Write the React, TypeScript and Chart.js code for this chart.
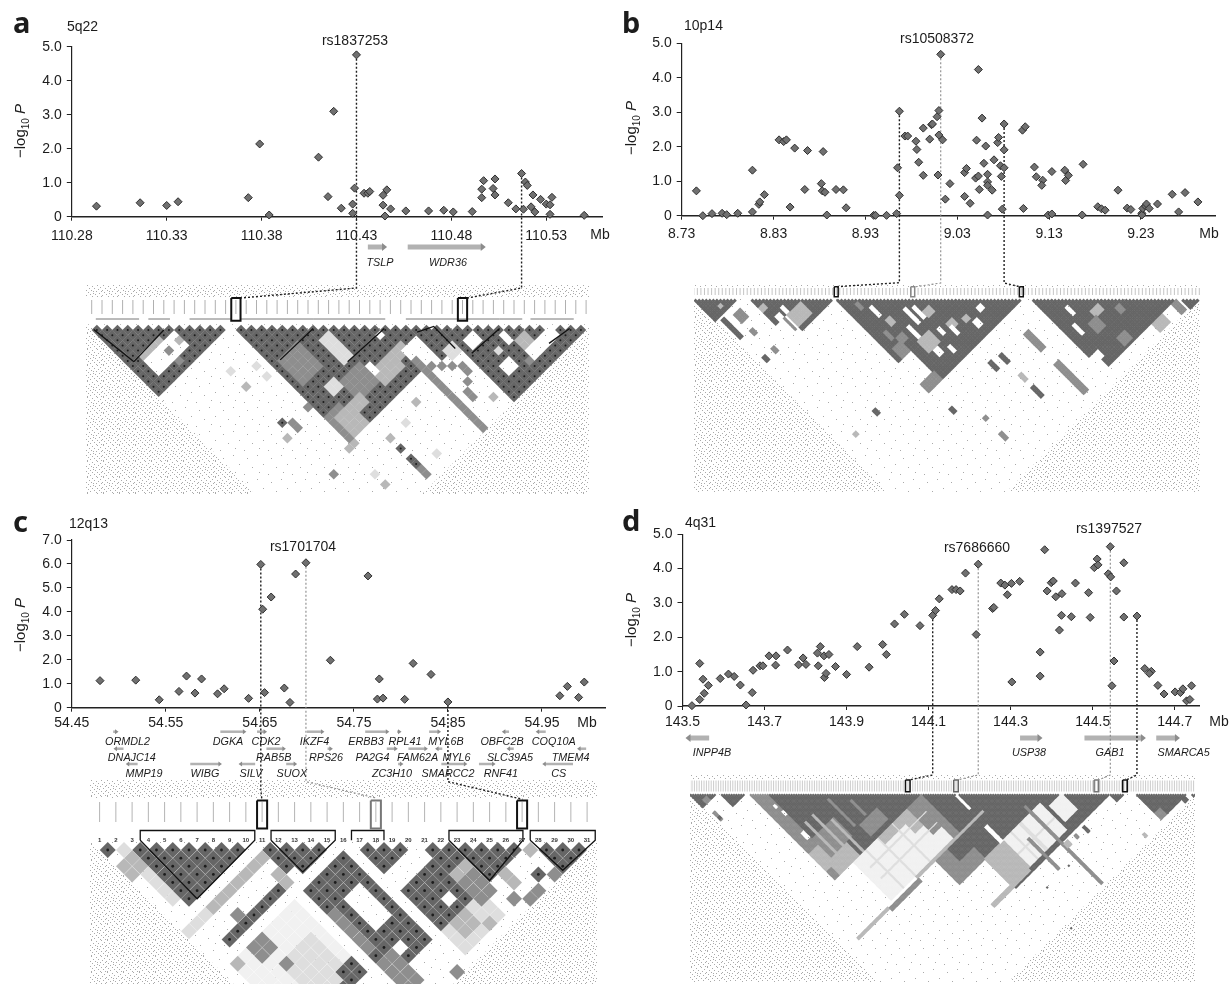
import React, { useEffect, useRef } from "react";
import { Chart, registerables } from "chart.js";
Chart.register(...registerables);

// ---------- association data: [Mb, -log10 P] ----------
const SNPS_A = [[110.293,.31],[110.316,.41],[110.33,.33],[110.336,.44],[110.373,.56],[110.379,2.14],[110.384,.05],[110.41,1.75],[110.415,.59],[110.418,3.1],[110.422,.25],[110.428,.37],[110.428,.1],[110.429,.84],[110.43,4.76],[110.434,.69],[110.436,.69],[110.437,.74],[110.444,.34],[110.444,.63],[110.446,.79],[110.445,.02],[110.448,.23],[110.456,.17],[110.468,.17],[110.476,.19],[110.481,.14],[110.491,.15],[110.496,.56],[110.496,.81],[110.497,1.06],[110.502,.83],[110.503,1.11],[110.503,.64],[110.51,.41],[110.514,.23],[110.517,1.27],[110.518,.22],[110.519,1.02],[110.52,.92],[110.522,.29],[110.523,.64],[110.524,.14],[110.527,.51],[110.53,.37],[110.532,.35],[110.533,.57],[110.532,.07],[110.55,.04]];
const SNPS_B = [[8.746,.72],[8.753,0],[8.763,.06],[8.774,.07],[8.779,.03],[8.791,.07],[8.807,.11],[8.807,1.32],[8.814,.33],[8.815,.4],[8.82,.61],[8.836,2.2],[8.841,2.15],[8.844,2.2],[8.848,.25],[8.853,1.96],[8.864,.76],[8.867,1.89],[8.882,.93],[8.884,1.86],[8.883,.72],[8.886,.68],[8.888,.02],[8.898,.76],[8.906,.75],[8.909,.23],[8.939,.01],[8.941,.01],[8.953,.01],[8.965,1.39],[8.964,.06],[8.967,.59],[8.967,3.03],[8.973,2.31],[8.976,2.31],[8.985,2.16],[8.986,1.92],[8.988,1.55],[8.993,1.17],[8.993,2.54],[9,2.22],[9.002,2.64],[9.003,2.66],[9.008,2.87],[9.009,1.18],[9.01,3.05],[9.01,2.34],[9.014,2.2],[9.012,4.68],[9.017,.48],[9.022,.93],[9.038,.56],[9.038,1.25],[9.04,1.37],[9.044,.36],[9.051,2.19],[9.05,1.09],[9.053,1.15],[9.054,.76],[9.053,4.24],[9.057,2.83],[9.059,1.52],[9.061,2.02],[9.063,1.2],[9.063,.98],[9.063,.88],[9.063,.02],[9.068,.74],[9.07,1.62],[9.074,2.12],[9.075,2.27],[9.077,1.45],[9.078,1.14],[9.081,1.39],[9.079,.19],[9.081,1.91],[9.081,2.66],[9.101,2.48],[9.104,2.58],[9.102,.21],[9.114,1.41],[9.116,1.13],[9.123,1.03],[9.122,.88],[9.129,.02],[9.133,.05],[9.133,1.28],[9.147,1.32],[9.148,1.02],[9.151,1.17],[9.166,.02],[9.167,1.49],[9.183,.26],[9.187,.2],[9.191,.16],[9.205,.74],[9.215,.22],[9.219,.18],[9.231,.07],[9.231,.02],[9.232,.21],[9.235,.28],[9.236,.34],[9.239,.21],[9.248,.34],[9.264,.62],[9.271,.11],[9.278,.67],[9.292,.4]];
const SNPS_C = [[54.48,1.13],[54.518,1.15],[54.543,.33],[54.564,.68],[54.572,1.32],[54.581,.61],[54.588,1.2],[54.605,.58],[54.612,.79],[54.638,.39],[54.651,5.98],[54.653,4.11],[54.655,.63],[54.662,4.62],[54.676,.82],[54.682,.22],[54.688,5.58],[54.699,6.05],[54.725,1.98],[54.765,5.5],[54.775,.36],[54.777,1.2],[54.781,.4],[54.804,.35],[54.813,1.85],[54.832,1.39],[54.85,.24],[54.969,.5],[54.977,.89],[54.989,.43],[54.995,1.07]];
const SNPS_D = [[143.523,.01],[143.542,1.24],[143.542,.19],[143.55,.78],[143.553,.37],[143.563,.6],[143.592,.8],[143.612,.93],[143.626,.86],[143.641,.61],[143.655,.03],[143.67,.39],[143.672,1.04],[143.689,1.17],[143.696,1.17],[143.711,1.46],[143.727,1.19],[143.728,1.46],[143.756,1.63],[143.783,1.2],[143.794,1.4],[143.801,1.21],[143.829,1.54],[143.831,1.17],[143.836,1.73],[143.845,1.46],[143.846,.83],[143.85,.95],[143.857,1.5],[143.873,1.15],[143.9,.92],[143.926,1.73],[143.955,1.13],[143.988,1.79],[143.997,1.5],[144.017,2.39],[144.041,2.67],[144.079,2.34],[144.11,2.64],[144.117,2.78],[144.126,3.12],[144.157,3.39],[144.167,3.39],[144.177,3.35],[144.19,3.87],[144.216,2.08],[144.221,4.13],[144.256,2.84],[144.259,2.87],[144.276,3.58],[144.286,3.52],[144.292,3.24],[144.302,3.57],[144.303,.7],[144.322,3.63],[144.372,.87],[144.372,1.57],[144.383,4.55],[144.389,3.35],[144.399,3.59],[144.404,3.64],[144.41,3.18],[144.419,2.21],[144.425,3.27],[144.424,2.64],[144.448,2.6],[144.458,3.58],[144.49,3.3],[144.494,2.58],[144.504,4.03],[144.511,4.28],[144.513,4.11],[144.538,3.85],[144.543,4.64],[144.544,3.76],[144.547,.59],[144.552,1.31],[144.558,3.35],[144.576,4.17],[144.576,2.59],[144.608,2.62],[144.627,1.09],[144.643,1.01],[144.638,.95],[144.659,.6],[144.674,.35],[144.701,.41],[144.714,.39],[144.72,.5],[144.741,.59],[144.729,.15],[144.737,.19]];

// ---------- tick labels ----------
const XTICKS_A = [110.28,110.33,110.38,110.43,110.48,110.53];
const XTICKS_B = [8.73,8.83,8.93,9.03,9.13,9.23];
const XTICKS_C = [54.45,54.55,54.65,54.75,54.85,54.95];
const XTICKS_D = [143.5,143.7,143.9,144.1,144.3,144.5,144.7];
const YTICKS_5 = [0,1,2,3,4,5];
const YTICKS_7 = [0,1,2,3,4,5,6,7];

// ---------- genes: [name, start Mb, end Mb] (start > end = reverse strand) ----------
const GENES_A = [["TSLP",110.436,110.444],["WDR36",110.457,110.496]];
const GENES_C_1 = [["ORMDL2",54.494,54.497],["DGKA",54.608,54.633],["CDK2",54.647,54.655],["IKZF4",54.70,54.716],["ERBB3",54.762,54.785],["RPL41",54.796,54.798],["MYL6B",54.83,54.84],["OBFC2B",54.915,54.91],["COQ10A",54.954,54.946]];
const GENES_C_2 = [["DNAJC14",54.505,54.497],["RAB5B",54.657,54.675],["RPS26",54.722,54.725],["PA2G4",54.785,54.794],["FAM62A",54.808,54.826],["MYL6",54.844,54.839],["SLC39A5",54.92,54.915],["TMEM4",54.997,54.99]];
const GENES_C_3 = [["MMP19",54.52,54.51],["WIBG",54.576,54.607],["SILV",54.645,54.63],["SUOX",54.678,54.687],["ZC3H10",54.797,54.80],["SMARCC2",54.843,54.868],["RNF41",54.883,54.898],["CS",54.983,54.953]];
const GENES_D = [["INPP4B",143.565,143.517],["USP38",144.323,144.368],["GAB1",144.48,144.62],["SMARCA5",144.655,144.703]];

// ---------- LD matrices: [i0,i1,j0,j1,shade] in marker indices, later entries paint over earlier ----------
const LD_A = [[0,13,0,13,1],[2,7,9,11,0],[2,5,8,8,3],[7,7,10,10,3],[5,5,10,10,2],[5,5,12,12,2],[14,36,14,36,1],[14,16,32,36,2],[15,17,33,36,3],[21,22,24,28,4],[15,18,22,26,2],[19,22,30,33,2],[23,26,32,34,3],[27,27,29,29,0],[27,28,32,33,3],[23,23,31,32,0],[17,18,29,30,4],[18,19,33,34,3],[28,31,33,48,0],[31,48,31,48,1],[31,33,38,48,0],[28,28,35,48,2],[29,29,37,37,2],[30,30,38,38,2],[31,31,39,39,2],[32,32,40,41,2],[31,31,42,42,2],[30,30,43,44,2],[32,32,46,46,3],[36,37,44,45,0],[37,37,42,42,4],[39,39,41,42,0],[40,41,43,45,3],[39,40,46,46,2],[32,33,37,38,4],[40,44,45,46,0],[35,36,38,39,0],[9,9,28,28,1],[10,10,29,30,2],[8,8,30,30,3],[18,18,42,42,1],[18,18,44,45,1],[18,18,46,47,2],[9,9,38,38,2],[13,13,44,44,3],[13,13,42,42,4],[18,18,40,40,3],[9,9,21,21,3],[12,12,22,22,4],[9,9,18,18,4],[12,12,20,20,4],[13,13,29,29,2],[24,24,39,39,3],[21,21,40,40,4],[13,14,37,37,3],[21,21,46,46,4]];
const LD_B = [[0,12,0,12,1],[5,6,9,10,3],[2,3,14,24,1],[7,10,16,20,2],[7,8,25,27,2],[3,4,36,38,1],[8,9,36,38,2],[16,39,16,39,1],[22,29,31,37,3],[18,20,28,31,0],[22,23,27,30,0],[16,18,21,23,3],[16,21,31,39,0],[20,20,31,37,2],[40,92,40,92,1],[40,46,76,87,0],[40,47,88,92,2],[47,48,52,57,0],[44,45,47,50,2],[56,57,62,70,0],[59,60,64,70,0],[61,64,68,71,3],[77,79,82,84,0],[64,67,78,81,3],[70,72,81,83,3],[53,55,82,85,0],[58,59,85,88,0],[64,65,80,84,0],[44,45,63,67,2],[46,49,68,71,2],[51,57,75,81,3],[42,46,70,75,2],[48,50,60,63,3],[52,53,68,74,0],[60,61,77,80,0],[72,74,85,88,0],[83,85,103,112,2],[83,85,120,136,2],[70,71,120,125,1],[70,71,102,106,1],[65,66,101,105,1],[19,20,82,84,1],[48,49,124,127,2],[70,71,113,116,3],[41,42,103,105,1],[7,8,83,84,3],[48,49,115,116,2],[95,135,95,135,1],[99,100,114,119,0],[102,103,107,111,0],[108,112,115,118,3],[97,99,128,131,0],[95,97,128,135,0],[104,108,118,123,2],[116,118,121,124,2],[108,112,130,134,2],[137,142,137,142,1],[133,135,136,141,2],[122,127,136,140,3]];
const LD_C = [[0,1,0,1,1],[1,2,1,2,4],[0,1,3,4,3],[1,1,5,8,4],[2,9,2,9,1],[10,11,10,11,1],[11,14,11,14,1],[16,19,16,19,1],[20,26,20,26,1],[26,27,26,27,3],[27,30,27,30,1],[0,2,11,11,4],[3,9,11,11,3],[2,8,14,14,1],[4,4,13,13,2],[10,10,12,13,1],[9,9,13,14,3],[10,14,16,26,1],[12,13,19,22,0],[12,12,25,25,0],[10,10,19,23,2],[10,11,25,28,2],[14,14,30,30,2],[1,8,16,23,5],[4,7,19,23,4],[3,4,16,17,2],[4,4,19,19,2],[7,8,23,24,1],[6,7,24,24,1],[1,1,16,16,3],[16,20,22,26,1],[18,18,25,25,0],[20,21,24,26,3],[20,21,25,27,2],[16,20,27,29,4],[17,18,27,28,3],[19,19,29,29,3],[20,20,27,27,2],[22,22,29,29,2],[23,23,30,30,2],[25,25,29,29,1],[26,26,30,30,2],[24,24,30,30,2],[23,23,27,28,3],[20,20,29,29,4]];
const LD_D = [[0,11,0,11,1],[3,6,8,11,2],[2,3,18,24,2],[2,3,22,23,1],[13,23,13,23,1],[25,96,25,96,2],[33,96,33,96,1],[25,45,75,96,3],[33,50,70,85,2],[25,28,90,96,2],[36,37,60,96,3],[42,43,60,96,3],[48,49,70,96,3],[55,56,60,82,2],[64,65,70,82,2],[30,31,40,42,0],[31,32,46,49,0],[30,32,63,68,0],[58,72,84,93,2],[97,175,97,175,1],[40,91,97,128,5],[60,91,97,102,3],[78,91,97,110,3],[85,91,97,118,2],[50,50,97,128,4],[60,60,97,128,4],[72,72,97,128,4],[45,91,115,115,4],[45,91,106,106,4],[92,96,97,128,2],[75,96,129,150,2],[85,96,129,140,1],[10,35,130,131,3],[36,60,131,133,2],[60,115,129,130,3],[96,112,150,172,3],[112,142,150,172,5],[125,126,150,172,4],[118,118,150,172,4],[112,142,162,162,4],[145,155,155,168,5],[134,135,145,209,2],[122,123,160,185,2],[80,110,172,174,3],[110,111,112,123,0],[109,111,137,150,0],[150,151,178,182,1],[143,144,178,180,2],[135,138,177,180,3],[175,181,175,181,1],[186,207,186,207,1],[186,190,202,207,2],[203,205,205,210,1],[172,173,206,208,3],[209,211,209,211,1],[128,128,188,188,1],[110,110,188,188,1],[103,103,215,215,1]];

// block outline polylines in LD coordinates [position, depth]
const LINES_A = [[[4.1,7.15],[7,1]],[[18.3,6.8],[21.5,.7]],[[24.85,7.15],[28.4,.7]],[[36.9,5.5],[39.6,.7]],[[44.4,3.6],[46.4,.7]],[[31.6,1.4],[33.2,.3],[35.3,4.6]],[[0.2,.9],[4.1,7.15]]];
const BRACKETS_A = [[.4,4.6],[5.5,7.6],[9.5,13.5],[14.5,21.5],[21.5,28.5],[30.5,35.5],[35.5,39.6],[39.6,41.8],[42.6,46.8]];
const LINES_C = [[[2.5,-.2],[2.5,-1.4],[9.55,-1.4],[9.55,-.2],[6,7],[2.5,-.2]],[[10.55,-.2],[10.55,-1.4],[14.5,-1.4],[14.5,-.2],[12.5,3.7],[10.55,-.2]],[[15.5,-.2],[15.5,-1.4],[17.5,-1.4],[17.5,-.2]],[[21.5,-.2],[21.5,-1.4],[26.05,-1.4],[26.05,-.2],[24,4.75],[21.5,-.2]],[[26.5,-.2],[26.5,-1.4],[30.5,-1.4],[30.5,-.2],[28.5,3.5],[26.5,-.2]]];

const SHADES = ["#ffffff","#666666","#8e8e8e","#b8b8b8","#dedede","#f1f1f1"];
const STIPPLE = [[1,0],[6,1],[11,0],[14,2],[3,3],[8,3],[12,4],[0,5],[5,5],[10,6],[15,6],[2,7],[7,8],[13,8],[4,9],[9,9],[0,10],[11,11],[15,11],[6,11],[2,12],[8,13],[13,13],[4,14],[10,15],[15,15],[1,15],[7,6]];
const SPARSE = [[3,2],[17,5],[9,11],[22,14],[5,19],[14,21]];

type LDConf = { rects:number[][]; rect:number[]; x0:number; s:number; y1:number; headTop:number; rowTop:number; n:number; headY:number; headR:number; headColor:string; radius:number; dots:number; boxes:[number,string][]; boxHalf:number; boxY:number[]; boxW:number; lines?:number[][][]; brackets?:number[][]; bracketY?:number; numbers?:boolean; corner:number[]; border?:string };

type Conn = { x:number; y:number; bend:number; ex:number; ey:number; dark:boolean };
type TextItem = { t:string; x:number; y:number; font:string; align?:CanvasTextAlign };

const FONT = '"Liberation Sans", Arial, sans-serif';
const LETTER = 'bold 29px "Noto Sans", sans-serif';
const F_T = `14px ${FONT}`;
const F_G = `italic 10.8px ${FONT}`;

const PANELS:any[] = [
  { box:[0,0,615,497], x0:71.8,xEnd:602.8,y0:216.7,yTop:46.7,xMin:110.28,xMax:110.5598,yMax:5,xTicks:XTICKS_A,yTicks:YTICKS_5,dec:2,pad:7,snps:SNPS_A,
    titleX:20,titleY:131,
    genes:[{list:GENES_A,y:247,w:5,h:4}],
    conns:[{x:110.43,y:4.76,bend:288,ex:241,ey:298,dark:true},{x:110.517,y:1.27,bend:288,ex:467.4,ey:298,dark:true}] as Conn[],
    texts:[{t:"a",x:13,y:33,font:LETTER},{t:"5q22",x:67,y:30.5,font:F_T},{t:"rs1837253",x:355,y:45,font:F_T,align:"center"},{t:"Mb",x:600,y:239,font:F_T,align:"center"},{t:"TSLP",x:380,y:266,font:F_G,align:"center"},{t:"WDR36",x:448,y:266,font:F_G,align:"center"}] as TextItem[],
    ld:{rects:LD_A,rect:[86,285,589,494],x0:91.7,s:10.3,y1:330,headTop:297,rowTop:324,n:49,headY:307,headR:7,headColor:"#b0b0b0",radius:5.3,dots:1,boxes:[[14,"#111"],[36,"#111"]],boxHalf:.45,boxY:[298,320.7],boxW:2,lines:LINES_A,brackets:BRACKETS_A,bracketY:319,corner:[-.5,48.5]} as LDConf },
  { box:[615,0,615,497], x0:681.7,xEnd:1215,y0:215.7,yTop:43.3,xMin:8.73,xMax:9.3106,yMax:5,xTicks:XTICKS_B,yTicks:YTICKS_5,dec:2,pad:6.5,snps:SNPS_B,
    titleX:630.7,titleY:128,genes:[],
    conns:[{x:8.967,y:3.03,bend:282.7,ex:836.7,ey:286.7,dark:true},{x:9.012,y:4.68,bend:283,ex:914,ey:287,dark:false},{x:9.081,y:2.66,bend:283,ex:1021,ey:287,dark:true}] as Conn[],
    texts:[{t:"b",x:622,y:33,font:LETTER},{t:"10p14",x:684,y:30,font:F_T},{t:"rs10508372",x:937,y:43,font:F_T,align:"center"},{t:"Mb",x:1209,y:238,font:F_T,align:"center"}] as TextItem[],
    ld:{rects:LD_B,rect:[694,285,1200,492],x0:693.8,s:3.56,y1:300.7,headTop:287,rowTop:299,n:143,headY:291.5,headR:3.5,headColor:"#c4c4c4",radius:2.1,dots:0,boxes:[[40,"#111"],[61.5,"#888"],[92,"#111"]],boxHalf:.55,boxY:[286.7,296.7],boxW:1.5,corner:[0,142]} as LDConf },
  { box:[0,497,615,487], x0:71.8,xEnd:605.9,y0:707.7,yTop:540,xMin:54.45,xMax:55.018,yMax:7,xTicks:XTICKS_C,yTicks:YTICKS_7,dec:2,pad:3.5,snps:SNPS_C,
    titleX:20,titleY:625,
    genes:[{list:GENES_C_1,y:731.7,w:2.5,h:2.5},{list:GENES_C_2,y:748.7,w:2.5,h:2.5},{list:GENES_C_3,y:764,w:2.5,h:2.5}],
    conns:[{x:54.651,y:5.98,bend:790,ex:262,ey:800.7,dark:true},{x:54.699,y:6.05,bend:781.7,ex:376,ey:798,dark:false},{x:54.85,y:.24,bend:781.7,ex:522.5,ey:799.3,dark:true}] as Conn[],
    texts:[{t:"c",x:13,y:531.5,font:LETTER},{t:"12q13",x:69,y:528,font:F_T},{t:"rs1701704",x:303,y:551,font:F_T,align:"center"},{t:"Mb",x:587,y:727,font:F_T,align:"center"},
      ...[["ORMDL2",127.5],["DGKA",228],["CDK2",266],["IKZF4",314.5],["ERBB3",366],["RPL41",405],["MYL6B",446],["OBFC2B",502],["COQ10A",553.7]].map(([t,x])=>({t,x,y:744.5,font:F_G,align:"center"})),
      ...[["DNAJC14",131.8],["RAB5B",273.7],["RPS26",326],["PA2G4",372.5],["FAM62A",417.6],["MYL6",456.5],["SLC39A5",510],["TMEM4",570.6]].map(([t,x])=>({t,x,y:760.5,font:F_G,align:"center"})),
      ...[["MMP19",144],["WIBG",205],["SILV",251],["SUOX",291.8],["ZC3H10",392],["SMARCC2",448],["RNF41",500.8],["CS",558.8]].map(([t,x])=>({t,x,y:777,font:F_G,align:"center"}))] as TextItem[],
    ld:{rects:LD_C,rect:[90,780,597,984],x0:99.6,s:16.25,y1:850,headTop:798,rowTop:842,n:31,headY:812,headR:10,headColor:"#b4b4b4",radius:8,dots:1.4,boxes:[[10,"#111"],[17,"#777"],[26,"#111"]],boxHalf:.31,boxY:[800.5,828.5],boxW:2,lines:LINES_C,numbers:true,corner:[-.5,30.5]} as LDConf },
  { box:[615,497,615,487], x0:682.5,xEnd:1199.3,y0:706,yTop:534.3,xMin:143.5,xMax:144.76,yMax:5,xTicks:XTICKS_D,yTicks:YTICKS_5,dec:1,pad:3.5,snps:SNPS_D,
    titleX:630.7,titleY:620,
    genes:[{list:GENES_D,y:738,w:5,h:4}],
    conns:[{x:144.11,y:2.64,bend:775,ex:909,ey:780,dark:true},{x:144.221,y:4.13,bend:775,ex:957,ey:780,dark:false},{x:144.543,y:4.64,bend:775,ex:1098,ey:780,dark:false},{x:144.608,y:2.62,bend:775,ex:1126,ey:780,dark:true}] as Conn[],
    texts:[{t:"d",x:622,y:530.5,font:LETTER},{t:"4q31",x:685,y:527,font:F_T},{t:"rs7686660",x:977,y:552,font:F_T,align:"center"},{t:"rs1397527",x:1109,y:533,font:F_T,align:"center"},{t:"Mb",x:1219,y:725.5,font:F_T,align:"center"},
      {t:"INPP4B",x:712,y:756,font:F_G,align:"center"},{t:"USP38",x:1029,y:756,font:F_G,align:"center"},{t:"GAB1",x:1110,y:756,font:F_G,align:"center"},{t:"SMARCA5",x:1183.6,y:756,font:F_G,align:"center"}] as TextItem[],
    ld:{rects:LD_D,rect:[690,775,1195,982],x0:689.6,s:2.4,y1:795,headTop:779,rowTop:794,n:211,headY:786,headR:5.5,headColor:"#cccccc",radius:1.5,dots:0,boxes:[[90.9,"#111"],[111,"#666"],[169.5,"#777"],[181.4,"#111"]],boxHalf:.95,boxY:[780,791.7],boxW:1.5,corner:[0,211]} as LDConf },
];

function makeTile(size:number, dots:number[][], color:string) {
  const c = document.createElement("canvas");
  c.width = size; c.height = size;
  const g = c.getContext("2d")!;
  g.fillStyle = color;
  dots.forEach(([x,y]) => g.fillRect(x,y,1,1));
  return c;
}

function cellsFrom(rects:number[][]) {
  const m = new Map<string,[number,number,number]>();
  rects.forEach(([i0,i1,j0,j1,lv]) => {
    for (let i=i0;i<=i1;i++) for (let j=Math.max(j0,i+1);j<=j1;j++) {
      const k = i+"_"+j;
      if (lv===0) m.delete(k); else m.set(k,[i,j,lv]);
    }
  });
  return [...m.values()];
}

function ldConfig(c:LDConf):any {
  const [l,t,r,b] = c.rect;
  const dAt = (py:number) => 1 + (py-c.y1)/(c.s/2);
  const xAt = (px:number) => (px-c.x0)/c.s;
  const cells = cellsFrom(c.rects);
  const datasets:any[] = [];
  const line = (data:any[], color:string, w:number) => ({ type:"line", data, borderColor:color, borderWidth:w, pointRadius:0, fill:false, tension:0, order:0 });
  c.boxes.forEach(([idx,col]) => {
    const [a,e] = c.boxY;
    datasets.push(line([{x:idx-c.boxHalf,y:dAt(a)},{x:idx+c.boxHalf,y:dAt(a)},{x:idx+c.boxHalf,y:dAt(e)},{x:idx-c.boxHalf,y:dAt(e)},{x:idx-c.boxHalf,y:dAt(a)}],col,c.boxW));
  });
  (c.lines||[]).forEach(p => datasets.push(line(p.map(([x,y])=>({x,y})),"#111",1.3)));
  (c.brackets||[]).forEach(([p,q]) => datasets.push(line([{x:p,y:dAt(c.bracketY!)},{x:q,y:dAt(c.bracketY!)}],"#777",1)));
  if (c.dots) datasets.push({ data:cells.filter(x=>x[2]===1).map(([i,j])=>({x:(i+j)/2,y:j-i})), pointStyle:"circle", pointRadius:c.dots, backgroundColor:"#1c1c1c", borderWidth:0, pointBorderWidth:0, order:1 });
  [1,2,3,4,5].forEach(lv => datasets.push({ data:cells.filter(x=>x[2]===lv).map(([i,j])=>({x:(i+j)/2,y:j-i})), pointStyle:"rectRot", pointRadius:c.radius, backgroundColor:SHADES[lv], pointBorderWidth:0, order:2 }));
  datasets.push({ data:Array.from({length:c.n},(_,i)=>({x:i,y:dAt(c.headY)})), pointStyle:"line", pointRotation:90, pointRadius:c.headR, pointBorderColor:c.headColor, pointBorderWidth:1, order:3 });
  const backdrop = {
    id:"ldBackdrop",
    beforeDatasetsDraw(ch:any) {
      const g = ch.ctx, a = ch.chartArea, X = ch.scales.x, Y = ch.scales.y;
      g.save();
      g.fillStyle = "#fff"; g.fillRect(a.left,a.top,a.width,a.height);
      g.fillStyle = g.createPattern(makeTile(16,STIPPLE,"#aaaaaa"),"repeat");
      g.fillRect(a.left,a.top,a.width,a.height);
      g.fillStyle = "#fff";
      g.fillRect(a.left,c.headTop-c.rect[1],a.width,c.rowTop-c.headTop);
      const [p,q] = c.corner;
      const tri = () => { g.beginPath(); g.moveTo(X.getPixelForValue(p),Y.getPixelForValue(0)); g.lineTo(X.getPixelForValue(q),Y.getPixelForValue(0)); g.lineTo(X.getPixelForValue((p+q)/2),Y.getPixelForValue(q-p)); g.closePath(); };
      g.beginPath(); g.rect(a.left,a.top,a.width,a.height); g.clip();
      tri(); g.fill();
      g.fillStyle = g.createPattern(makeTile(24,SPARSE,"#aaa"),"repeat");
      tri(); g.fill();
      g.restore();
    },
    afterDatasetsDraw(ch:any) {
      if (!c.numbers) return;
      const g = ch.ctx, X = ch.scales.x, Y = ch.scales.y;
      g.save(); g.font = `bold 6px ${FONT}`; g.fillStyle = "#333"; g.textAlign = "center"; g.textBaseline = "middle";
      for (let i=0;i<c.n;i++) g.fillText(String(i+1),X.getPixelForValue(i),Y.getPixelForValue(dAt(840)));
      g.restore();
    },
  };
  return {
    type:"scatter",
    data:{ datasets },
    options:{ responsive:false, animation:false, events:[], layout:{padding:0,autoPadding:false},
      plugins:{legend:{display:false},tooltip:{enabled:false},title:{display:false}},
      scales:{
        x:{type:"linear",display:false,min:xAt(l),max:xAt(r)},
        y:{type:"linear",display:false,reverse:true,min:dAt(t),max:dAt(b)},
      } },
    plugins:[backdrop],
  };
}

function plotConfig(p:any):any {
  const [ox,oy,w,h] = p.box;
  const xAt = (px:number) => p.xMin + (px-p.x0)/(p.xEnd-p.x0)*(p.xMax-p.xMin);
  const yAt = (py:number) => (p.y0-py)/(p.y0-p.yTop)*p.yMax;
  const datasets:any[] = [];
  datasets.push({ data:p.snps.map(([x,y]:number[])=>({x,y})), pointStyle:"rectRot", pointRadius:4, backgroundColor:"#707070", pointBorderColor:"#2e2e2e", pointBorderWidth:1, clip:false, order:0 });
  (p.conns as Conn[]).forEach(c => datasets.push({ data:[{x:c.x,y:c.y},{x:c.x,y:yAt(c.bend)},{x:xAt(c.ex),y:yAt(c.ey)}], showLine:true, pointRadius:0, borderColor:c.dark?"#1e1e1e":"#8a8a8a", borderWidth:c.dark?1.4:1.1, borderDash:[2,2], clip:false, order:1 }));
  p.genes.forEach((g:any) => g.list.forEach(([,s,e]:any[]) => datasets.push({ data:[{x:s,y:yAt(g.y)},{x:e,y:yAt(g.y)}], showLine:true, pointRadius:0, borderColor:"#b2b2b2", borderWidth:g.w, clip:false, order:1 })));
  const deco = {
    id:"deco",
    afterDraw(ch:any) {
      const g = ch.ctx, X = ch.scales.x;
      g.save();
      p.genes.forEach((gr:any) => gr.list.forEach(([,s,e]:any[]) => {
        const px = X.getPixelForValue(e), py = gr.y-oy, dir = e>s?1:-1, hh = gr.h;
        g.fillStyle = "#8c8c8c"; g.beginPath(); g.moveTo(px+dir*hh,py); g.lineTo(px-dir*1,py-hh); g.lineTo(px-dir*1,py+hh); g.closePath(); g.fill();
      }));
      g.fillStyle = "#1c1c1c"; g.textBaseline = "alphabetic";
      (p.texts as TextItem[]).forEach(t => { g.font = t.font; g.textAlign = t.align||"left"; g.fillText(t.t,t.x-ox,t.y-oy); });
      g.translate(p.titleX-ox+5,p.titleY-oy); g.rotate(-Math.PI/2);
      g.textAlign = "left";
      g.font = `15px ${FONT}`; const a = "\u2212log"; const wa = g.measureText(a).width;
      g.font = `10px ${FONT}`; const wb = g.measureText("10").width;
      g.font = `italic 15px ${FONT}`; const wc = g.measureText(" P").width;
      let cx = -(wa+wb+wc)/2;
      g.font = `15px ${FONT}`; g.fillText(a,cx,0); cx += wa;
      g.font = `10px ${FONT}`; g.fillText("10",cx,4); cx += wb;
      g.font = `italic 15px ${FONT}`; g.fillText(" P",cx,0);
      g.restore();
    },
  };
  const yW = 40, xH = 30;
  const tickFont = { family:'"Liberation Sans", Arial, sans-serif', size:14 };
  return {
    type:"scatter",
    data:{ datasets },
    options:{ responsive:false, animation:false, events:[],
      layout:{ padding:{ left:p.x0-ox-yW, top:p.yTop-oy, right:w-(p.xEnd-ox), bottom:h-(p.y0-oy)-xH } },
      plugins:{legend:{display:false},tooltip:{enabled:false},title:{display:false}},
      scales:{
        x:{ type:"linear", min:p.xMin, max:p.xMax,
          afterBuildTicks:(s:any)=>{ s.ticks = p.xTicks.map((value:number)=>({value})); },
          afterFit:(s:any)=>{ s.height = xH; },
          grid:{ drawOnChartArea:false, drawTicks:true, tickLength:4, color:"#222", lineWidth:1 },
          border:{ color:"#222", width:1.5 },
          ticks:{ color:"#1c1c1c", font:tickFont, padding:p.pad, maxRotation:0, autoSkip:false, callback:(v:number)=>Number(v).toFixed(p.dec) } },
        y:{ type:"linear", min:0, max:p.yMax,
          afterBuildTicks:(s:any)=>{ s.ticks = p.yTicks.map((value:number)=>({value})); },
          afterFit:(s:any)=>{ s.width = yW; },
          grid:{ drawOnChartArea:false, drawTicks:true, tickLength:5, color:"#222", lineWidth:1 },
          border:{ color:"#222", width:1.2 },
          ticks:{ color:"#1c1c1c", font:tickFont, padding:5, autoSkip:false, callback:(v:number)=>v===0?"0":Number(v).toFixed(1) } },
      } },
    plugins:[deco],
  };
}

function Panel({ p }:{ p:any }) {
  const ldRef = useRef<HTMLCanvasElement>(null);
  const plotRef = useRef<HTMLCanvasElement>(null);
  useEffect(() => {
    const a = new Chart(ldRef.current!, ldConfig(p.ld));
    const b = new Chart(plotRef.current!, plotConfig(p));
    return () => { a.destroy(); b.destroy(); };
  }, [p]);
  const [l,t,r,bt] = p.ld.rect;
  const [ox,oy,w,h] = p.box;
  return (
    <>
      <canvas ref={ldRef} width={r-l} height={bt-t} style={{position:"absolute",left:l,top:t,width:r-l,height:bt-t,display:"block"}} />
      <canvas ref={plotRef} width={w} height={h} style={{position:"absolute",left:ox,top:oy,width:w,height:h,display:"block"}} />
    </>
  );
}

export default function App() {
  return (
    <div style={{position:"absolute",left:0,top:0,width:1230,height:984,background:"#fff",overflow:"hidden"}}>
      {PANELS.map((p,i)=><Panel key={i} p={p} />)}
    </div>
  );
}
